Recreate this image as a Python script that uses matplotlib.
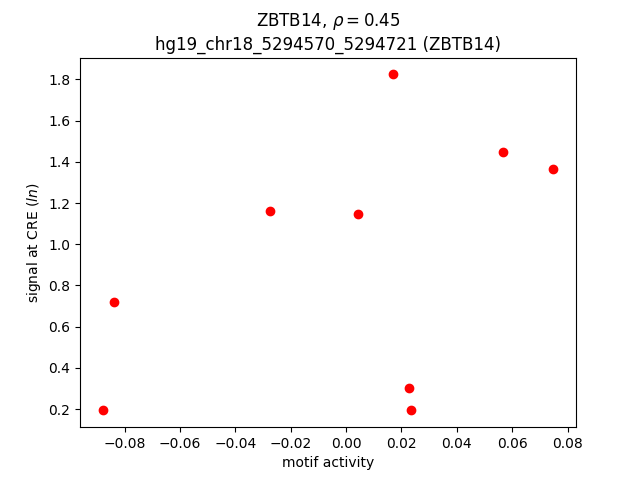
import matplotlib
matplotlib.use("Agg")
from matplotlib import pyplot as plt

# motif activity vs signal at CRE
motif_activity = [-0.0880, -0.0840, -0.0275, 0.0043, 0.0170, 0.0228, 0.0235, 0.0568, 0.0749]
cre_signal = [0.194, 0.722, 1.159, 1.149, 1.824, 0.304, 0.198, 1.446, 1.364]

fig, ax = plt.subplots(figsize=(6.4, 4.8), dpi=100)
ax.scatter(motif_activity, cre_signal, color="red")
ax.set_xlabel("motif activity")
ax.set_ylabel("signal at CRE ($ln$)")
ax.set_title("ZBTB14, $\\rho = 0.45$\nhg19_chr18_5294570_5294721 (ZBTB14)")
fig.savefig("out.png")
